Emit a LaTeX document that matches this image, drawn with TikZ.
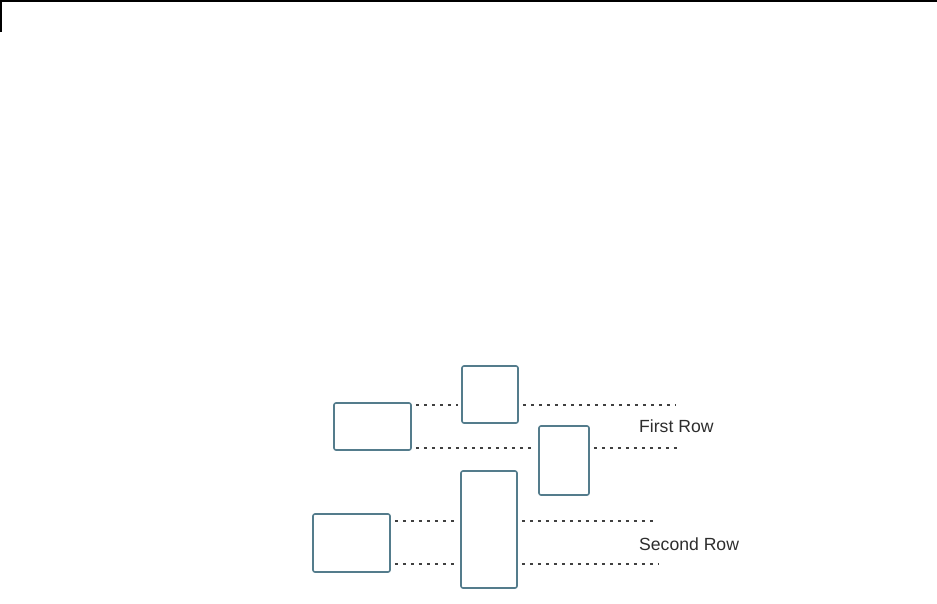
\documentclass[tikz,border=0pt]{standalone}
\usepackage{fontspec}
\setmainfont{Liberation Sans}
\usepackage{xcolor}
\usetikzlibrary{positioning,calc}

\definecolor{boxline}{RGB}{84,124,140}
\definecolor{labelgray}{RGB}{45,45,45}

\begin{document}
\begin{tikzpicture}[
  x=1pt, y=-1pt,
  block/.style={rectangle, rounded corners=2pt, draw=boxline, line width=1.6pt, inner sep=0pt},
  guide/.style={draw=black!75, line width=1.1pt, dash pattern=on 3pt off 5pt, shorten <=4pt},
  rowlabel/.style={anchor=west, inner sep=0pt, text=labelgray, font=\fontsize{17.6}{20}\selectfont}
]
\useasboundingbox (0,0) rectangle (937,603);

% frame corner
\draw[black, line width=1.5pt] (1,32) -- (1,0.75) -- (937,0.75);

% first row
\node[block, minimum width=77pt, minimum height=47pt] (r1left) at (372.5,426.5) {};
\node[block, minimum width=56pt, minimum height=57pt] (r1mid) at (490,394.5) {};
\node[block, minimum width=50pt, minimum height=69pt] (r1right) at (564,460.5) {};

% second row
\node[block, minimum width=77pt, minimum height=58pt] (r2left) at (351.5,543) {};
\node[block, minimum width=56pt, minimum height=117pt] (r2mid) at (489,529.5) {};

% guide ends
\coordinate (r1top) at (676,405);
\coordinate (r1bot) at (678,448);
\coordinate (r2top) at (657,521);
\coordinate (r2bot) at (659,564);

\draw[guide, shorten >=3pt] (r1left.east |- r1top) -- (r1mid.west |- r1top);
\draw[guide] (r1mid.east |- r1top) -- (r1top);
\draw[guide, shorten >=3pt] (r1left.east |- r1bot) -- (r1right.west |- r1bot);
\draw[guide] (r1right.east |- r1bot) -- (r1bot);

\draw[guide, shorten >=3pt] (r2left.east |- r2top) -- (r2mid.west |- r2top);
\draw[guide] (r2mid.east |- r2top) -- (r2top);
\draw[guide, shorten >=3pt] (r2left.east |- r2bot) -- (r2mid.west |- r2bot);
\draw[guide] (r2mid.east |- r2bot) -- (r2bot);

% labels
\node[rowlabel] (firstrow) at (639,426.5) {First Row};
\node[rowlabel] (secondrow) at (639,544) {Second Row};

\end{tikzpicture}
\end{document}
